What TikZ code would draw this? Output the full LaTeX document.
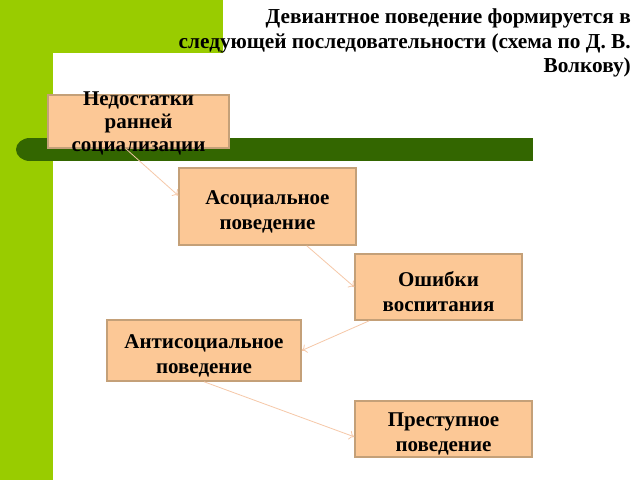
\documentclass[tikz,border=0pt]{standalone}
\usepackage{fontspec}
\setmainfont{Liberation Serif}
\usepackage{xcolor}
\usetikzlibrary{positioning}
\usetikzlibrary{arrows.meta,calc}
\definecolor{vert}{RGB}{153,204,0}
\definecolor{vertfonce}{RGB}{51,102,0}
\definecolor{peche}{RGB}{252,200,150}
\definecolor{bord}{RGB}{196,160,120}
\definecolor{fleche}{RGB}{246,200,168}
\newcommand{\haut}{\rule{0pt}{24pt}}

\begin{document}
\begin{tikzpicture}[
x=1pt, y=-1pt,
auto,
etape/.style = {
  rectangle,
  draw=bord,
  fill=peche,
  line width=1.5pt,
  inner sep=0pt,
  align=center,
  font=\fontsize{21}{25}\selectfont\bfseries},
texte/.style = {
  align=center,
  inner sep=0pt,
  font=\fontsize{21}{23}\selectfont\bfseries},
line/.style = {draw=fleche, line width=0.8pt, -{To[length=5pt,width=9pt]}},
]
\clip (0,0) rectangle (640,480);
% fond
\fill[vert] (0,0) rectangle (223,53);
\fill[vert] (0,0) rectangle (53,480);
\fill[white, rounded corners=15pt] (53,53) rectangle (680,520);
\fill[vertfonce] (30,138) rectangle (533,161);
\fill[vertfonce] (30,149.5) ellipse [x radius=14pt, y radius=11.5pt];

\node[anchor=north east, align=right, inner sep=0pt,
  font=\fontsize{21.3}{24.5}\selectfont\bfseries] (titre) at (631,9)
  {Девиантное поведение формируется в\\следующей последовательности (схема по Д. В.\\Волкову)};

\node[etape, minimum width=181pt, minimum height=53pt] (1) at (138.5,121.5) {};
\node[texte] (t1) at (138.5,123) {Недостатки\\ранней\\социализации};
\node[etape, minimum width=177pt, minimum height=77pt] (2) at (267.5,206.5) {\haut Асоциальное\\поведение};
\node[etape, minimum width=167pt, minimum height=66pt] (3) at (438.5,287) {\haut Ошибки\\воспитания};
\node[etape, minimum width=194pt, minimum height=61pt] (4) at (204,350.5) {\haut Антисоциальное\\поведение};
\node[etape, minimum width=177pt, minimum height=56pt] (5) at (443.5,429) {\haut Преступное\\поведение};

 \begin{scope}[every path/.style=line]
\path (1.245) -- (2.173);
\path (2.-45) -- (3.west);
\path (3.206) -- (4.east);
\path (4.south) -- (5.185);
\end{scope}

\end{tikzpicture}
\end{document}
